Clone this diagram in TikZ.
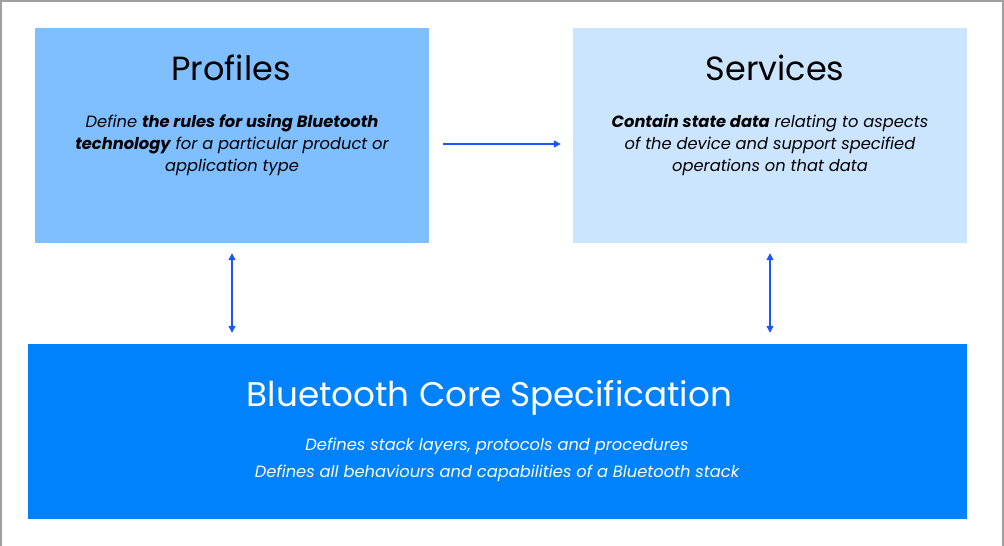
\documentclass[tikz,border=0pt]{standalone}
\usepackage{fontspec}
\setmainfont{Poppins}
\usetikzlibrary{arrows.meta}
\definecolor{profblue}{HTML}{80BFFF}
\definecolor{servblue}{HTML}{CCE5FF}
\definecolor{coreblue}{HTML}{0082FC}
\definecolor{arrowblue}{HTML}{1A56FF}
\definecolor{frame}{HTML}{A0A0A0}
\tikzset{
  box/.style={rectangle, inner sep=0pt, draw=none},
  title/.style={anchor=base, inner sep=0pt, font=\fontsize{33.5}{38}\selectfont},
  body/.style={anchor=base, inner sep=0pt, align=center, font=\fontsize{16.3}{22}\selectfont\itshape},
  link/.style={draw=arrowblue, line width=1.3pt, -{Triangle[length=7pt,width=7pt]}},
  dlink/.style={draw=arrowblue, line width=1.3pt, {Triangle[length=7pt,width=7pt]}-{Triangle[length=7pt,width=7pt]}}
}
\begin{document}
\begin{tikzpicture}[x=1pt,y=-1pt]
\useasboundingbox (0,0) rectangle (1004,546);
\fill[white] (0,0) rectangle (1004,546);
\draw[frame, line width=1.5pt] (0.75,546) -- (0.75,0.75) -- (1002.75,0.75) -- (1002.75,546);
\node[box, fill=profblue, minimum width=394pt, minimum height=215pt] (prof) at (232,135.5) {};
\node[box, fill=servblue, minimum width=394pt, minimum height=215pt] (serv) at (770,135.5) {};
\node[box, fill=coreblue, minimum width=939pt, minimum height=175pt] (core) at (497.5,431.5) {};
\node[title] (proft) at (231,80) {Profiles};
\node[title] (servt) at (775,80) {Services};
\node[title, text=white, font=\fontsize{34.2}{40}\selectfont] (coret) at (489.5,406) {Bluetooth Core Specification};
\node[body] (profb) at (232,171) {Define \textbf{the rules for using Bluetooth}\\\textbf{technology} for a particular product or\\application type};
\node[body] (servb) at (770,171) {\textbf{Contain state data} relating to aspects\\of the device and support specified\\operations on that data};
\node[body, text=white, font=\fontsize{16.3}{27}\selectfont\itshape] (coreb) at (497,477) {Defines stack layers, protocols and procedures\\Defines all behaviours and capabilities of a Bluetooth stack};
\draw[link, shorten <=14pt, shorten >=12pt] ([yshift=-8.5pt]prof.east) -- ([yshift=-8.5pt]serv.west);
\draw[dlink, shorten <=10pt, shorten >=11pt] (prof.south) -- (prof.south |- core.north);
\draw[dlink, shorten <=10pt, shorten >=11pt] (serv.south) -- (serv.south |- core.north);
\end{tikzpicture}
\end{document}
